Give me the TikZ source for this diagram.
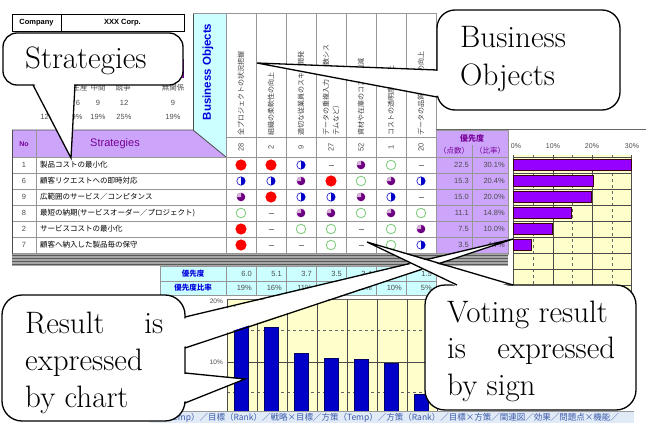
\documentclass[tikz,border=0pt]{standalone}
\usepackage{fontspec}
\newfontfamily\jp{Noto Sans CJK JP}
\newfontfamily\arial{Liberation Sans}
\usetikzlibrary{calc}

\definecolor{hdpurple}{RGB}{204,164,250}
\definecolor{txpurple}{RGB}{120,0,150}
\definecolor{lcyan}{RGB}{204,255,255}
\definecolor{lyellow}{RGB}{255,255,204}
\definecolor{barpurple}{RGB}{150,0,255}
\definecolor{barblue}{RGB}{0,0,200}
\definecolor{txblue}{RGB}{0,0,220}
\definecolor{gridgray}{RGB}{150,150,150}
\definecolor{symred}{RGB}{255,0,0}
\definecolor{symblue}{RGB}{0,0,200}
\definecolor{sympurple}{RGB}{110,0,130}
\definecolor{symgreen}{RGB}{120,205,120}
\definecolor{tabbg}{RGB}{225,235,248}
\definecolor{tabtx}{RGB}{60,90,170}

% rating symbols: full, three-quarter, half, empty, none
\newcommand\symR[1]{\fill[symred] (#1) circle (5.6);}
\newcommand\symP[1]{\fill[sympurple] (#1) circle (4.3);
  \fill[violet!30!white,shift={(#1)}] (0,0) -- (-4.3,0) arc (180:270:4.3) -- cycle;}
\newcommand\symH[1]{\fill[white] (#1) circle (4.2);
  \fill[symblue,shift={(#1)}] (0,-4.2) arc (-90:90:4.2) -- cycle;
  \draw[symblue,line width=0.6pt] (#1) circle (4.2);}
\newcommand\symG[1]{\draw[symgreen,line width=0.8pt] (#1) circle (4.8);}
\newcommand\symD[1]{\draw[gray,line width=0.6pt,shift={(#1)}] (-2.5,0) -- (2.5,0);}

\begin{document}
\begin{tikzpicture}[x=1pt,y=-1pt,
  cell/.style={draw=gridgray,line width=0.5pt},
  jptext/.style={font=\jp\fontsize{7.5}{8}\selectfont,inner sep=0pt},
  numtext/.style={font=\arial\fontsize{7.5}{8}\selectfont,inner sep=0pt,text=black!70},
  coltext/.style={font=\jp\fontsize{7}{7.5}\selectfont,inner sep=0pt,rotate=90,anchor=west,text=black!75},
  bubble/.style={draw=black,fill=white,line width=1.3pt},
  bubbletext/.style={font=\fontsize{31}{37}\selectfont,inner sep=0pt,anchor=base west}]
\useasboundingbox (0,0) rectangle (646,423);
\fill[white] (0,0) rectangle (646,423);

% ---------- company header ----------
\draw[line width=0.8pt] (12,14) rectangle (184,31) (61,14) -- (61,31);
\node[font=\arial\bfseries\fontsize{7.5}{8}\selectfont] (company) at (36.5,22.5) {Company};
\node[font=\arial\bfseries\fontsize{7.5}{8}\selectfont] (corp) at (122.5,22.5) {XXX Corp.};

% ---------- summary block under the company box ----------
\draw[txpurple,fill=hdpurple,line width=0.8pt] (140,59) rectangle (183,77);
\node[jptext,text=black!70] (lvA) at (80,88) {生産};
\node[jptext,text=black!70] (lvB) at (98,88) {中間};
\node[jptext,text=black!70] (lvC) at (123,88) {競争};
\node[jptext,text=black!70] (lvD) at (173,88) {無関係};
\node[numtext] (cnA) at (78,103) {6};
\node[numtext] (cnB) at (98,103) {9};
\node[numtext] (cnC) at (124,103) {12};
\node[numtext] (cnD) at (173,103) {9};
\node[numtext] (pcA) at (48,117) {12\%};
\node[numtext] (pcB) at (75,117) {19\%};
\node[numtext] (pcC) at (98,117) {19\%};
\node[numtext] (pcD) at (124,117) {25\%};
\node[numtext] (pcE) at (173,117) {19\%};

% ---------- business objects column ----------
\fill[lcyan] (193,13) -- (226,13) -- (226,157) -- (193,130) -- cycle;
\draw[black!70,line width=0.8pt] (193,13) -- (193,130);
\node[font=\arial\bfseries\fontsize{11.5}{12}\selectfont,text=txblue,rotate=90,inner sep=0pt]
  (bo) at (208,72) {Business Objects};

% column headers
\draw[cell] (193,13) -- (436,13);
\foreach \x in {226,256,...,436} \draw[cell] (\x,13) -- (\x,254);
\draw[cell] (226,137) -- (436,137);
\node[coltext] (h1) at (241,136) {全プロジェクトの状況把握};
\node[coltext] (h2) at (271,136) {組織の柔軟性の向上};
\node[coltext] (h3) at (301,136) {適切な従業員のスキル開発};
\node[coltext] (h4a) at (326,136) {データの重複入力（複数シス};
\node[coltext] (h4b) at (336,136) {テムなど）};
\node[coltext] (h5) at (361,136) {資材や在庫のコスト削減};
\node[coltext] (h6) at (391,136) {コストの透明度の向上};
\node[coltext] (h7) at (421,136) {データの品質と精度の向上};
\foreach \n [count=\j] in {28,2,9,27,52,1,20}
  \node[numtext,rotate=90] (num\j) at ({211+30*\j},147) {\n};

% ---------- strategies header ----------
\fill[hdpurple] (12,130) -- (193,130) -- (226,157) -- (12,157) -- cycle;
\draw[black!70,line width=0.8pt] (12,130) -- (193,130) -- (226,157);
\draw[cell] (36,130) -- (36,266);
\node[font=\arial\bfseries\fontsize{7}{8}\selectfont,text=txpurple] (nohd) at (24,144) {No};
\node[font=\arial\fontsize{11}{12}\selectfont,text=txpurple] (sthd) at (115,144) {Strategies};

% ---------- priority header ----------
\draw[line width=0.6pt,black!60] (436,129) -- (646,129);
\fill[hdpurple] (436,130) rectangle (508,254);
\draw[cell] (436,130) rectangle (508,254) (472,145) -- (472,254) (436,157) -- (508,157);
\node[font=\jp\bfseries\fontsize{8}{9}\selectfont,text=txpurple] (pri) at (472,138) {優先度};
\node[font=\jp\fontsize{7.5}{8}\selectfont,text=txpurple] (pts) at (454,151) {（点数）};
\node[font=\jp\fontsize{7.5}{8}\selectfont,text=txpurple] (rat) at (490,151) {（比率）};

% ---------- strategy rows ----------
\foreach \no/\txt [count=\i] in {1/製品コストの最小化,6/顧客リクエストへの即時対応,
    9/広範囲のサービス／コンピタンス,8/最短の納期(サービスオーダー／プロジェクト),
    2/サービスコストの最小化,7/顧客へ納入した製品毎の保守}{
  \draw[cell] (12,{157+16*\i}) -- (508,{157+16*\i});
  \node[numtext] (no\i) at (24,{149+16*\i}) {\no};
  \node[jptext,anchor=west] (st\i) at (40,{149+16*\i}) {\txt};
}
\draw[cell] (12,157) -- (436,157);
\draw[black!70,line width=0.8pt] (12,130) -- (12,266);

% symbols
\foreach \row [count=\i] in {{R,R,H,D,P,G,D},{H,H,P,R,G,P,H},{P,R,H,H,P,H,D},
    {G,D,P,P,G,P,G},{R,D,G,G,D,G,P},{R,D,D,G,D,G,H}}{
  \foreach \s [count=\j] in \row {
    \csname sym\s\endcsname{{211+30*\j},{149+16*\i}}
  }
}

% priority values
\foreach \p/\r [count=\i] in {22.5/30.1,15.3/20.4,15.0/20.0,11.1/14.8,7.5/10.0,3.5/4.7}{
  \node[numtext,anchor=east] (pp\i) at (469,{149+16*\i}) {\p};
  \node[numtext,anchor=east] (pr\i) at (505,{149+16*\i}) {\r\%};
}

% closing band under the rows
\fill[black!35] (12,254) rectangle (508,266);
\foreach \y in {255,258,261,264} \draw[black!65,line width=0.6pt] (12,\y) -- (508,\y);

% ---------- column totals ----------
\fill[lcyan] (160,266) rectangle (436,295);
\draw[cell] (160,266) rectangle (436,295) (160,281) -- (436,281);
\foreach \x in {226,256,...,406} \draw[cell] (\x,266) -- (\x,295);
\node[font=\jp\bfseries\fontsize{7.5}{8}\selectfont,text=txblue] (tot) at (193,273.5) {優先度};
\node[font=\jp\bfseries\fontsize{7.5}{8}\selectfont,text=txblue] (totr) at (193,288) {優先度比率};
\foreach \v/\r [count=\j] in {6.0/19,5.1/16,3.7/11,3.5/11,3.4/11,3.2/10,1.5/5}{
  \node[numtext,anchor=east] (tv\j) at ({222+30*\j},273.5) {\v};
  \node[numtext,anchor=east] (tr\j) at ({222+30*\j},288) {\r\%};
}

% ---------- horizontal bar chart ----------
\fill[lyellow] (513,155) rectangle (631,300);
\foreach \x in {513,553,592,631} \draw[black!70,line width=0.6pt] (\x,155) -- (\x,300);
\foreach \x in {533,572,612} \draw[black!60,line width=0.5pt,dashed] (\x,155) -- (\x,300);
\foreach \y in {157,173,189,205,221,237,253,269,285} \draw[black!70,line width=0.5pt] (513,\y) -- (631,\y);
\foreach \l/\x in {0/516,10/553,20/592,30/632}
  \node[numtext,font=\arial\fontsize{7}{8}\selectfont] (ax\l) at (\x,146) {\l\%};
\foreach \v [count=\i] in {30.1,20.4,20.0,14.8,10.0,4.7}
  \draw[fill=barpurple,draw=black!70!purple,line width=0.5pt]
    (513,{143.5+16*\i}) rectangle ({513+3.93*\v},{154.5+16*\i});

% ---------- column chart ----------
\fill[lyellow] (227,299) rectangle (436,412);
\draw[black!60,line width=0.5pt] (227,299) -- (436,299);
\foreach \y in {330,392} \draw[black!60,line width=0.5pt,dashed] (227,\y) -- (436,\y);
\draw[black!70,line width=0.5pt] (227,362) -- (436,362);
\foreach \x in {227,257,...,437} \draw[black!70,line width=0.6pt] (\x,299) -- (\x,412);
\node[numtext,font=\arial\fontsize{6.5}{7}\selectfont,anchor=east] (ay20) at (223,301) {20\%};
\node[numtext,font=\arial\fontsize{6.5}{7}\selectfont,anchor=east] (ay10) at (223,362) {10\%};
\foreach \t [count=\j] in {306,327,353,358,359,363,394}
  \draw[fill=barblue,draw=black!60!blue,line width=0.6pt]
    ({204+30*\j},\t) rectangle ({218+30*\j},412);

% ---------- sheet tabs ----------
\fill[tabbg] (150,411) rectangle (634,423);
\draw[black!40,line width=0.5pt] (150,411) -- (634,411);
\node[font=\jp\fontsize{8.5}{9}\selectfont,text=tabtx,anchor=west,inner sep=0pt] (tabs) at (160,417.5)
  {（Temp）／目標（Rank）／戦略×目標／方策（Temp）／方策（Rank）／目標×方策／関連図／効果／問題点×機能／};

% ---------- callouts ----------
% Strategies
\coordinate (sTip) at (71,158);
\draw[bubble,rounded corners=14pt] (3,33) rectangle (183,85);
\fill[white] (34,83) -- (sTip) -- (74,83) -- cycle;
\draw[line width=1.3pt] (33,85) -- (sTip) -- (75,85);
\node[bubbletext] (sLbl) at (25,68) {Strategies};

% Business Objects
\coordinate (bTip) at (257,63);
\draw[bubble,rounded corners=18pt] (437,10) rectangle (620,110);
\fill[white] (439,71) -- (bTip) -- (439,96) -- cycle;
\draw[line width=1.3pt] (437,70) -- (bTip) -- (437,97);
\node[bubbletext] (bLbl1) at (460,47) {Business};
\node[bubbletext] (bLbl2) at (460,85) {Objects};

% Result expressed by chart
\coordinate (rTipA) at (513,239);
\coordinate (rTipB) at (245,379);
\draw[bubble,rounded corners=20pt] (2,295) rectangle (185,421);
\fill[white] (183,319) -- (rTipA) -- (183,347) -- cycle;
\draw[line width=1.3pt] (185,317) -- (rTipA) -- (185,348);
\fill[white] (183,374) -- (rTipB) -- (183,402) -- cycle;
\draw[line width=1.3pt] (185,373) -- (rTipB) -- (185,403);
\node[bubbletext] (rLbl1) at (25,333) {\hbox to 138pt{Result\hfill is}};
\node[bubbletext] (rLbl2) at (25,370) {expressed};
\node[bubbletext] (rLbl3) at (25,407) {by chart};

% Voting result expressed by sign
\coordinate (vTip) at (367,242);
\draw[bubble,rounded corners=20pt] (425,285) rectangle (636,410);
\fill[white] (458,287) -- (vTip) -- (512,287) -- cycle;
\draw[line width=1.3pt] (457,285) -- (vTip) -- (513,285);
\node[bubbletext] (vLbl1) at (447,322) {Voting result};
\node[bubbletext] (vLbl2) at (447,358) {\hbox to 168pt{is\hfill expressed}};
\node[bubbletext] (vLbl3) at (447,395) {by sign};
\end{tikzpicture}
\end{document}
